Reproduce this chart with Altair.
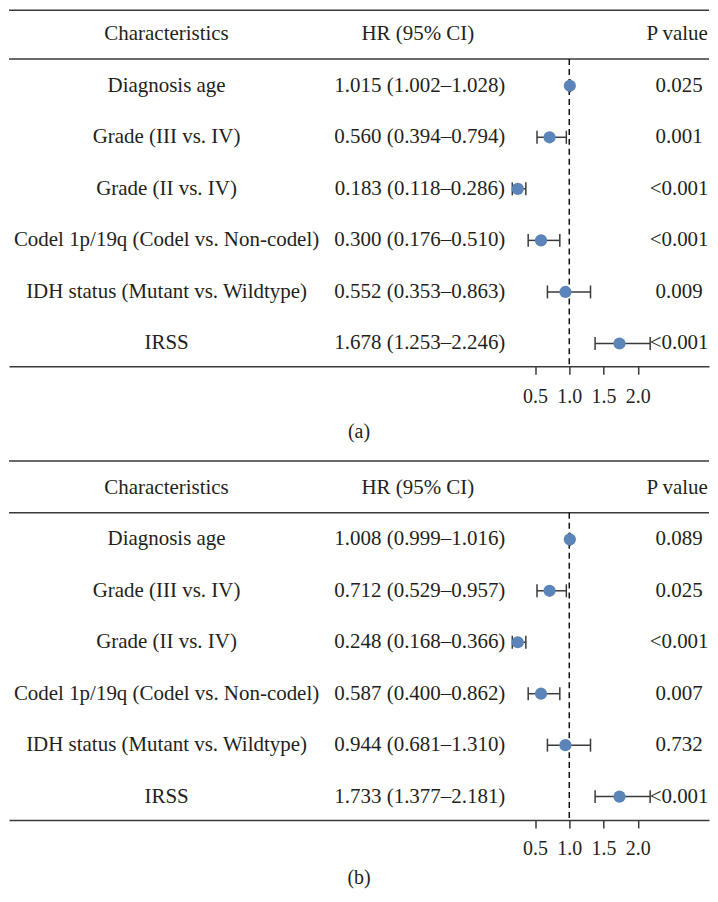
import altair as alt
import pandas as pd

# ---------------- data ----------------
header_labels = ["Characteristics", "HR (95% CI)", "P value"]
characteristics = [
    "Diagnosis age",
    "Grade (III vs. IV)",
    "Grade (II vs. IV)",
    "Codel 1p/19q (Codel vs. Non-codel)",
    "IDH status (Mutant vs. Wildtype)",
    "IRSS",
]
hr_text_a = [
    "1.015 (1.002–1.028)",
    "0.560 (0.394–0.794)",
    "0.183 (0.118–0.286)",
    "0.300 (0.176–0.510)",
    "0.552 (0.353–0.863)",
    "1.678 (1.253–2.246)",
]
p_text_a = ["0.025", "0.001", "<0.001", "<0.001", "0.009", "<0.001"]
# plotted positions (panel a)
hr_a = [1.008, 0.712, 0.248, 0.587, 0.944, 1.733]
lo_a = [0.999, 0.529, 0.168, 0.400, 0.681, 1.377]
hi_a = [1.016, 0.957, 0.366, 0.862, 1.310, 2.181]

hr_text_b = [
    "1.008 (0.999–1.016)",
    "0.712 (0.529–0.957)",
    "0.248 (0.168–0.366)",
    "0.587 (0.400–0.862)",
    "0.944 (0.681–1.310)",
    "1.733 (1.377–2.181)",
]
p_text_b = ["0.089", "0.025", "<0.001", "0.007", "0.732", "<0.001"]
hr_b = [1.008, 0.712, 0.248, 0.587, 0.944, 1.733]
lo_b = [0.999, 0.529, 0.168, 0.400, 0.681, 1.377]
hi_b = [1.016, 0.957, 0.366, 0.862, 1.310, 2.181]

x_ticks = [0.5, 1.0, 1.5, 2.0]

# ---------------- style ----------------
FONT = "Liberation Serif"
FS = 21
TXT = "#231f20"
LINE = "#3a3a3a"
DOT = "#5b84b8"
W = 702
X_DOMAIN = [-7.18, 3.04]
COL_LABEL = 158
COL_HR = 412
COL_HR_HEAD = 410
COL_P = 672
COL_P_HEAD = 670


def panel(hr_text, p_text, hr, lo, hi, height, header_px, step, header_line_px,
          caption, label_pad, title_offset):
    rows = list(range(1, len(characteristics) + 1))
    df = pd.DataFrame({
        "row": rows, "label": characteristics, "hrtext": hr_text,
        "p": p_text, "hr": hr, "lo": lo, "hi": hi,
    })
    hdf = pd.DataFrame({"row": [0]})
    top = -header_px / step
    bottom = (height - header_px) / step
    yscale = alt.Scale(domain=[top, bottom], reverse=True, nice=False, zero=False)
    xscale = alt.Scale(domain=X_DOMAIN, nice=False, zero=False)
    y = alt.Y("row:Q", scale=yscale, axis=None)
    xaxis = alt.Axis(values=x_ticks, format=".1f", title=None, grid=False,
                     domainColor=LINE, domainWidth=1.5, tickColor=LINE,
                     tickWidth=1.5, tickSize=8, labelFont=FONT, labelFontSize=20,
                     labelColor=TXT, labelPadding=label_pad, labelFlush=False,
                     labelOverlap=False)

    base = alt.Chart(df)
    hbase = alt.Chart(hdf)

    top_line = hbase.mark_rule(color=LINE, strokeWidth=1.5).encode(y=alt.value(0))
    head_line = hbase.mark_rule(color=LINE, strokeWidth=1.5).encode(y=alt.value(header_line_px))
    dash = hbase.mark_rule(color="#111111", strokeWidth=1.5, strokeDash=[6, 4]).encode(
        x=alt.datum(1.0, scale=xscale, axis=xaxis),
        y=alt.value(header_line_px), y2=alt.value(height))

    whisk = base.mark_rule(color=LINE, strokeWidth=1.5).encode(
        x=alt.X("lo:Q", scale=xscale, axis=xaxis), x2="hi:Q", y=y)
    cap_lo = base.mark_tick(orient="vertical", size=13, thickness=1.5, color=LINE, opacity=1).encode(
        x=alt.X("lo:Q", scale=xscale, axis=xaxis), y=y)
    cap_hi = base.mark_tick(orient="vertical", size=13, thickness=1.5, color=LINE, opacity=1).encode(
        x=alt.X("hi:Q", scale=xscale, axis=xaxis), y=y)
    dots = base.mark_circle(size=150, color=DOT, opacity=1).encode(
        x=alt.X("hr:Q", scale=xscale, axis=xaxis), y=y)

    tstyle = dict(font=FONT, fontSize=FS, color=TXT, align="center", baseline="middle")
    lab = base.mark_text(**tstyle).encode(x=alt.value(COL_LABEL), y=y, text="label:N")
    hrt = base.mark_text(**tstyle).encode(x=alt.value(COL_HR), y=y, text="hrtext:N")
    pt = base.mark_text(**tstyle).encode(x=alt.value(COL_P), y=y, text="p:N")

    h1 = hbase.mark_text(**tstyle).encode(x=alt.value(COL_LABEL), y=y, text=alt.value(header_labels[0]))
    h2 = hbase.mark_text(**tstyle).encode(x=alt.value(COL_HR_HEAD), y=y, text=alt.value(header_labels[1]))
    h3 = hbase.mark_text(**tstyle).encode(x=alt.value(COL_P_HEAD), y=y, text=alt.value(header_labels[2]))

    return alt.layer(
        top_line, head_line, dash, whisk, cap_lo, cap_hi, dots,
        lab, hrt, pt, h1, h2, h3,
    ).properties(
        width=W, height=height,
        title=alt.TitleParams(caption, orient="bottom", anchor="middle", font=FONT,
                              fontSize=20, fontWeight="normal", color=TXT,
                              offset=title_offset),
    )


pa = panel(hr_text_a, p_text_a, hr_a, lo_a, hi_a, 357, 24, 51.7, 49, "(a)", 12, 16)
pb = panel(hr_text_b, p_text_b, hr_b, lo_b, hi_b, 360, 27, 51.6, 52, "(b)", 11, 9)

chart = alt.vconcat(pa, pb, spacing=18).properties(
    padding={"left": 0, "top": 0, "right": 0, "bottom": 0}
).configure_view(stroke=None)

chart.save("out.html", embed_options={"renderer": "svg", "actions": False})
